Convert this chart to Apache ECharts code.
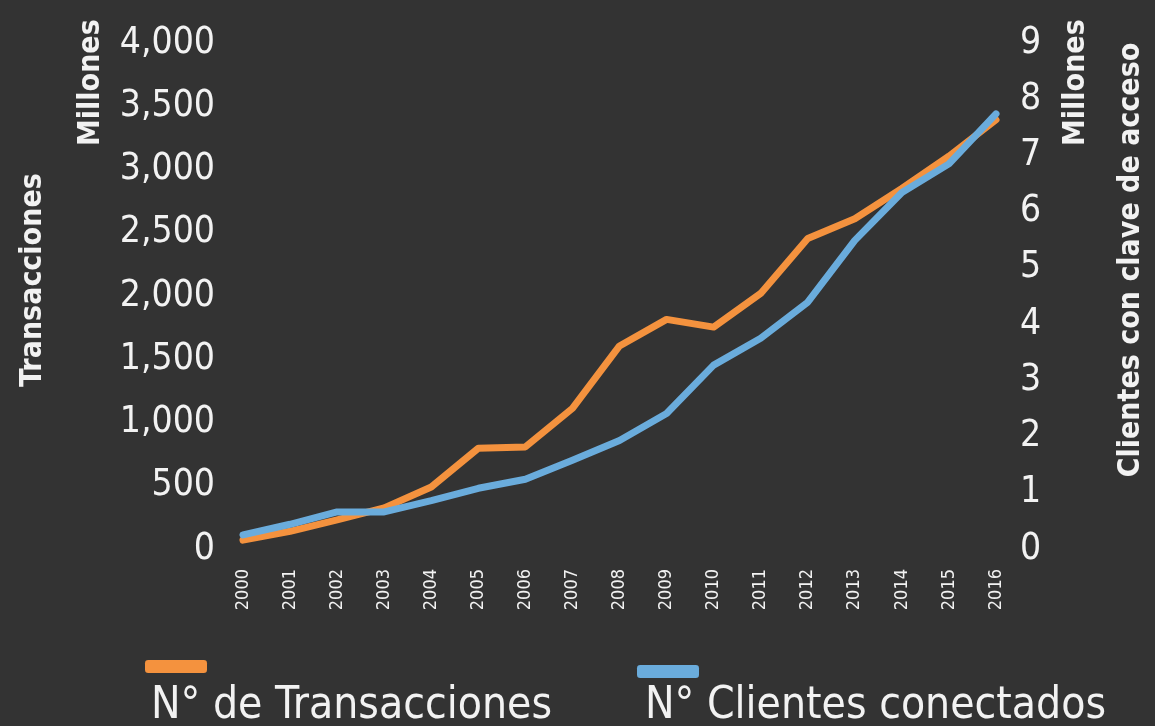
<!DOCTYPE html>
<html>
<head>
<meta charset="utf-8">
<script src="https://cdn.jsdelivr.net/npm/echarts@6/dist/echarts.min.js"></script>
<style>
  html, body { margin: 0; padding: 0; background: #333333; }
  #main { width: 1155px; height: 726px; }
</style>
</head>
<body>
<div id="main"></div>
<script>
  // datos
  var years = ['2000', '2001', '2002', '2003', '2004', '2005', '2006', '2007', '2008',
    '2009', '2010', '2011', '2012', '2013', '2014', '2015', '2016']
  var transacciones = [70, 140, 230, 325, 490, 797, 807, 1112, 1605, 1815, 1754, 2020,
    2454, 2611, 2850, 3105, 3393]
  var clientes = [0.25, 0.44, 0.66, 0.66, 0.86, 1.08, 1.24, 1.58, 1.93, 2.41, 3.27, 3.75,
    4.39, 5.49, 6.34, 6.85, 7.74]
  var seriesNames = ['N° de Transacciones', 'N° Clientes conectados']

  var font = 'DejaVu Sans Condensed'
  var white = '#f2f2f2'
  var axisNameFont = 'bold 30px ' + font

  var chart = echarts.init(document.getElementById('main'))

  chart.setOption({
    backgroundColor: '#333333',
    animation: false,
    textStyle: { fontFamily: font },
    grid: { left: 243, right: 159, top: 43, bottom: 177 },
    legend: [
      // iconos
      { data: [seriesNames[0]], left: 140, top: 655, itemWidth: 62, itemHeight: 13, icon: 'roundRect', formatter: function () { return '' } },
      { data: [seriesNames[1]], left: 632, top: 660, itemWidth: 62, itemHeight: 13, icon: 'roundRect', formatter: function () { return '' } },
      // textos
      { data: [seriesNames[0]], left: 146, top: 680, itemWidth: 0, itemHeight: 0, itemGap: 0, icon: 'none', textStyle: { color: white, fontSize: 44, fontFamily: font, padding: [0, 0, 0, -5] } },
      { data: [seriesNames[1]], left: 640, top: 680, itemWidth: 0, itemHeight: 0, itemGap: 0, icon: 'none', textStyle: { color: white, fontSize: 44, fontFamily: font, padding: [0, 0, 0, -5] } }
    ],
    xAxis: {
      type: 'category',
      boundaryGap: false,
      data: years,
      axisLine: { show: false },
      axisTick: { show: false },
      axisLabel: { color: white, fontSize: 18, rotate: 90, margin: 20, fontFamily: font }
    },
    yAxis: [
      {
        type: 'value', min: 0, max: 4000, interval: 500,
        splitLine: { show: false },
        axisLine: { show: false },
        axisTick: { show: false },
        axisLabel: {
          color: white, fontSize: 37, margin: 28, fontFamily: font,
          formatter: function (v) { return v.toLocaleString('en-US') }
        }
      },
      {
        type: 'value', min: 0, max: 9, interval: 1,
        splitLine: { show: false },
        axisLine: { show: false },
        axisTick: { show: false },
        axisLabel: { color: white, fontSize: 37, margin: 24, fontFamily: font }
      }
    ],
    graphic: [
      { type: 'text', x: 18, y: 280, rotation: Math.PI / 2, style: { text: 'Transacciones', fill: white, font: axisNameFont, align: 'center', verticalAlign: 'top' } },
      { type: 'text', x: 76, y: 146, rotation: Math.PI / 2, style: { text: 'Millones', fill: white, font: axisNameFont, align: 'left', verticalAlign: 'top' } },
      { type: 'text', x: 1061, y: 146, rotation: Math.PI / 2, style: { text: 'Millones', fill: white, font: axisNameFont, align: 'left', verticalAlign: 'top' } },
      { type: 'text', x: 1116, y: 260, rotation: Math.PI / 2, style: { text: 'Clientes con clave de acceso', fill: white, font: axisNameFont, align: 'center', verticalAlign: 'top' } }
    ],
    series: [
      {
        name: seriesNames[0],
        type: 'line',
        yAxisIndex: 0,
        data: transacciones,
        color: '#f4923e',
        symbol: 'none',
        lineStyle: { width: 7, cap: 'round', join: 'round' }
      },
      {
        name: seriesNames[1],
        type: 'line',
        yAxisIndex: 1,
        data: clientes,
        color: '#6aacdc',
        symbol: 'none',
        lineStyle: { width: 7, cap: 'round', join: 'round' }
      }
    ]
  })
</script>
</body>
</html>
